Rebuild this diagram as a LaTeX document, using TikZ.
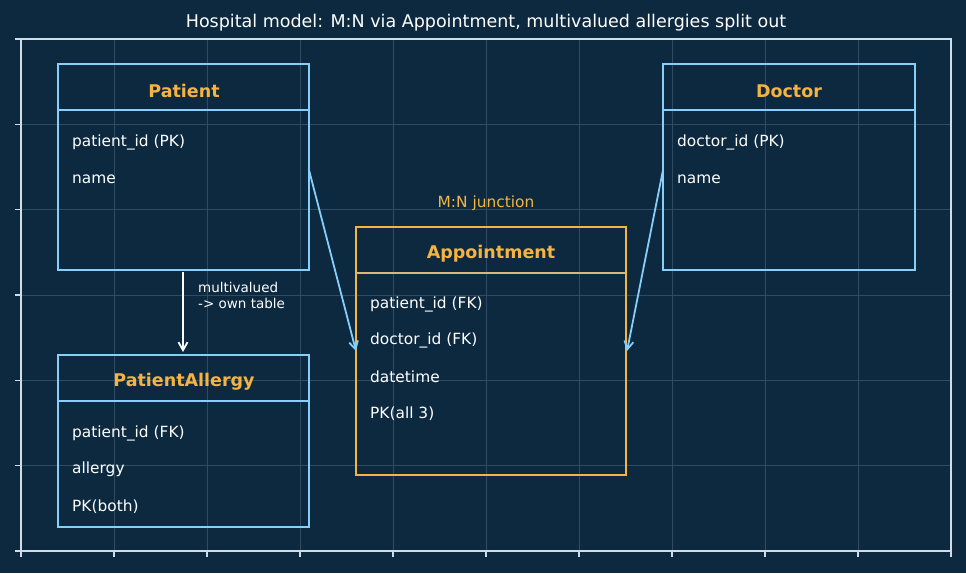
\documentclass[tikz,border=0pt]{standalone}
\usepackage{fontspec}
\setmainfont{DejaVu Sans}
\usetikzlibrary{arrows.meta}
\definecolor{bg}{HTML}{0C2940}
\definecolor{gridc}{HTML}{2F4C63}
\definecolor{framec}{HTML}{D0DCE8}
\definecolor{blueb}{HTML}{87CEFA}
\definecolor{orangeb}{HTML}{F5B342}
\definecolor{tanline}{HTML}{D8B87A}
\tikzset{
  entbox/.style={draw=blueb, line width=2.2pt},
  junbox/.style={draw=orangeb, line width=2.2pt},
  hdr/.style={font=\fontsize{17.5}{19}\selectfont\bfseries, text=orangeb, inner sep=0pt},
  fld/.style={font=\fontsize{15.4}{17}\selectfont, text=white, anchor=west, inner sep=0pt},
  fk/.style={draw=blueb, line width=1.8pt, -{Straight Barb[length=8pt,width=9pt,line width=1.8pt]}},
  mv/.style={draw=white, line width=1.8pt, -{Straight Barb[length=8pt,width=9pt,line width=1.8pt]}},
}
\begin{document}
\begin{tikzpicture}[x=1pt,y=-1pt]
\fill[bg] (0,0) rectangle (966,573);
\useasboundingbox (0,0) rectangle (966,573);
% grid
\foreach \i in {1,...,9} {\draw[gridc, line width=0.8pt] ({21+93*\i},39) -- ({21+93*\i},551);}
\foreach \j in {1,...,5} {\draw[gridc, line width=0.8pt] (21,{39+85.333*\j}) -- (951,{39+85.333*\j});}
% ticks
\foreach \i in {0,...,10} {\draw[framec, line width=1.2pt] ({21+93*\i},551) -- ({21+93*\i},557);}
\foreach \j in {0,...,6} {\draw[framec, line width=1.2pt] (21,{39+85.333*\j}) -- (15,{39+85.333*\j});}
\draw[framec, line width=1.6pt] (21,39) rectangle (951,551);
% title
\node[font=\fontsize{17.5}{19}\selectfont, text=white] (title) at (486,23) {Hospital model: M:N via Appointment, multivalued allergies split out};
% Patient
\draw[entbox] (58,64) rectangle (309,270);
\draw[blueb, line width=1.5pt] (58,110) -- (309,110);
\node[hdr] (patient) at (184,91) {Patient};
\node[fld] (p1) at (72,142.5) {patient\_id (PK)};
\node[fld] (p2) at (72,179) {name};
\coordinate (pR) at (309,170);
\coordinate (pB) at (183,272);
% Doctor
\draw[entbox] (663,64) rectangle (915,270);
\draw[blueb, line width=1.5pt] (663,110) -- (915,110);
\node[hdr] (doctor) at (789,91) {Doctor};
\node[fld] (d1) at (677,142.5) {doctor\_id (PK)};
\node[fld] (d2) at (677,179) {name};
\coordinate (dL) at (663,170);
% Appointment
\node[font=\fontsize{15.4}{17}\selectfont, text=orangeb] (junc) at (486,203) {M:N junction};
\draw[junbox] (356,227) rectangle (626,475);
\draw[tanline, line width=1.5pt] (356,273) -- (626,273);
\node[hdr] (appt) at (491,254) {Appointment};
\node[fld] (a1) at (370,304.5) {patient\_id (FK)};
\node[fld] (a2) at (370,340.5) {doctor\_id (FK)};
\node[fld] (a3) at (370,377) {datetime};
\node[fld] (a4) at (370,413.5) {PK(all 3)};
\coordinate (aL) at (356,351);
\coordinate (aR) at (627,351);
% PatientAllergy
\draw[entbox] (58,355) rectangle (309,527);
\draw[blueb, line width=1.5pt] (58,401) -- (309,401);
\node[hdr] (pa) at (184,382) {PatientAllergy};
\node[fld] (pa1) at (72,433.5) {patient\_id (FK)};
\node[fld] (pa2) at (72,469.5) {allergy};
\node[fld] (pa3) at (72,506.5) {PK(both)};
\coordinate (paT) at (183,352);
% connectors
\draw[fk] (pR) -- (aL);
\draw[fk] (dL) -- (aR);
\draw[mv] (pB) -- (paT);
\node[font=\fontsize{13.5}{15.5}\selectfont, text=white, anchor=north west, align=left, inner sep=0pt] (mvl) at (198,282.5) {multivalued\\-> own table};
\end{tikzpicture}
\end{document}
